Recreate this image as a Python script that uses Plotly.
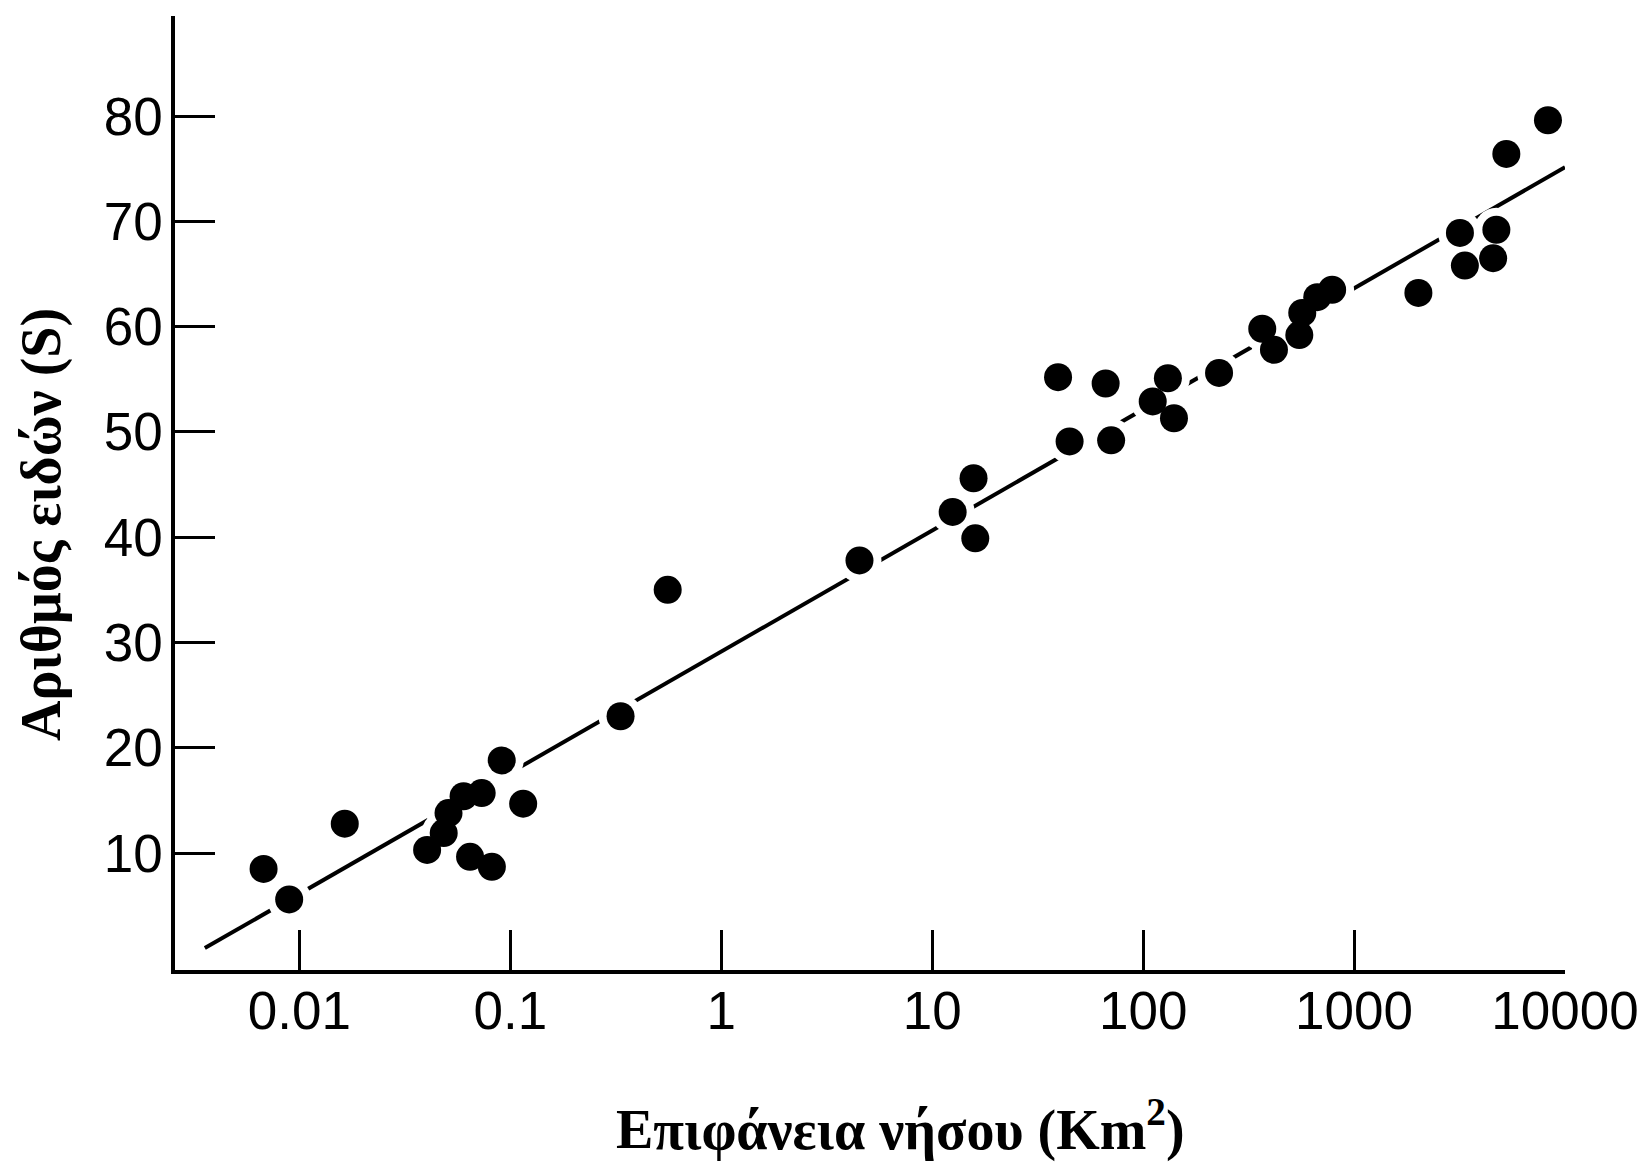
import plotly.graph_objects as go
import math

# Island area (km^2) and number of species (S)
areas = [0.00676, 0.00894, 0.0164, 0.0403, 0.0483, 0.0509, 0.0600, 0.0731,
         0.0644, 0.0817, 0.0910, 0.115, 0.333, 0.557, 4.52, 12.5, 15.7, 16.0,
         39.5, 66.4, 44.8, 70.5, 111, 131, 140, 229, 367, 417, 550, 568,
         669, 787, 2018, 3176, 3352, 4727, 4563, 5271, 8302]
species = [8.5, 5.6, 12.8, 10.3, 11.9, 13.8, 15.4, 15.7,
           9.65, 8.7, 18.8, 14.7, 23.0, 35.0, 37.8, 42.4, 45.6, 39.9,
           55.2, 54.6, 49.1, 49.2, 52.9, 55.1, 51.3, 55.6, 59.8, 57.8, 59.2, 61.3,
           62.8, 63.5, 63.2, 68.9, 65.8, 69.2, 66.5, 76.4, 79.6]

# Regression line S = a + b*log10(A)
fit_intercept = 29.14
fit_slope = 11.50
fit_x = [0.00356, 10000]

x_tickvals = [0.01, 0.1, 1, 10, 100, 1000, 10000]
x_ticktext = ["0.01", "0.1", "1", "10", "100", "1000", "10000"]
y_tickvals = [10, 20, 30, 40, 50, 60, 70, 80]
y_ticktext = ["10", "20", "30", "40", "50", "60", "70", "80"]

fit_y = [fit_intercept + fit_slope * math.log10(v) for v in fit_x]

fig = go.Figure()
fig.add_trace(go.Scatter(x=fit_x, y=fit_y, mode="lines",
                         line=dict(color="black", width=4),
                         hoverinfo="skip", showlegend=False))
# white halos to break the line around points
fig.add_trace(go.Scatter(x=areas, y=species, mode="markers",
                         marker=dict(color="white", size=44, line=dict(width=0)),
                         hoverinfo="skip", showlegend=False))
fig.add_trace(go.Scatter(x=areas, y=species, mode="markers",
                         marker=dict(color="black", size=28, line=dict(width=0)),
                         showlegend=False))

tick_font = dict(family="Liberation Sans, Arial, sans-serif", size=53, color="black")
fig.update_xaxes(type="log", range=[-2.59, 4.0], showgrid=False, zeroline=False,
                 showline=True, linecolor="black", linewidth=3.5,
                 ticks="inside", ticklen=40, tickwidth=2.5, tickcolor="black",
                 tickvals=x_tickvals, ticktext=x_ticktext, tickfont=tick_font,
                 ticklabelstandoff=-8)
fig.update_yaxes(range=[-1.1, 89.5], showgrid=False, zeroline=False,
                 showline=True, linecolor="black", linewidth=3.5,
                 ticks="inside", ticklen=40, tickwidth=3, tickcolor="black",
                 tickvals=y_tickvals, ticktext=y_ticktext, tickfont=tick_font,
                 ticklabelstandoff=-2)

title_font = dict(family="Liberation Serif, Times New Roman, serif", size=56, color="black")
fig.add_annotation(text="<b>Επιφάνεια νήσου (Km<sup>2</sup>)</b>", xref="paper", yref="paper",
                   x=0.522, y=-0.163, xanchor="center", yanchor="middle",
                   showarrow=False, font=title_font)
fig.add_annotation(text="<b>Αριθμός ειδών (S)</b>", xref="paper", yref="paper",
                   x=-0.096, y=0.467, xanchor="center", yanchor="middle",
                   textangle=-90, showarrow=False, font=title_font)

fig.update_layout(width=1651, height=1168, plot_bgcolor="white", paper_bgcolor="white",
                  margin=dict(l=175, r=84, t=16, b=198), showlegend=False)
fig.write_html("out.html")
